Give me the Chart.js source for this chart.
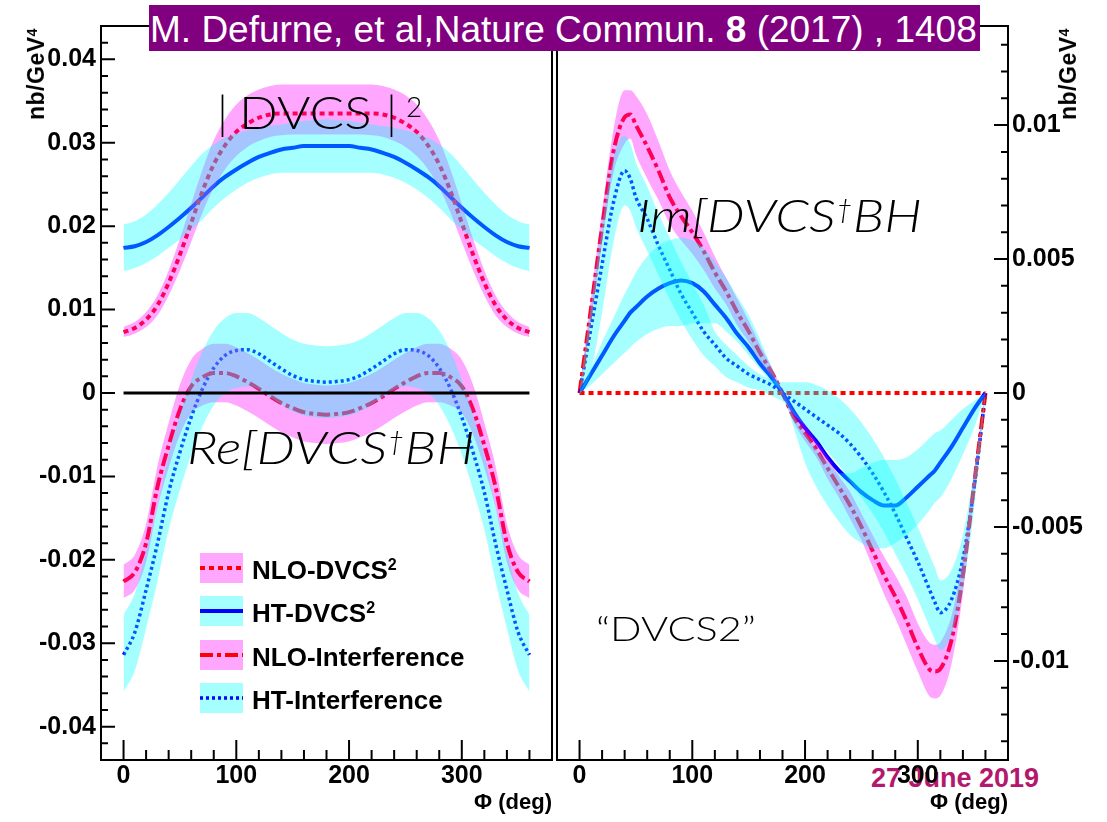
<!DOCTYPE html>
<html><head><meta charset="utf-8">
<script src="https://cdn.jsdelivr.net/npm/chart.js@4.4.1/dist/chart.umd.min.js"></script>
<style>
html,body{margin:0;padding:0;background:#fff;}
#wrap{position:relative;width:1107px;height:822px;overflow:hidden;font-family:"Liberation Sans",Arial,sans-serif;}
canvas{position:absolute;top:0;z-index:1;}
#c1{left:0;} #c2{left:556px;}
#date{position:absolute;left:871px;top:765px;font:bold 27px "Liberation Sans";line-height:27px;color:#b4186c;z-index:0;white-space:nowrap;}
.title{position:absolute;left:149px;top:5px;width:831px;height:46px;background:#800080;color:#fff;font-size:37px;line-height:50px;white-space:nowrap;padding-left:1px;box-sizing:border-box;z-index:3;overflow:hidden;}
.ann{position:absolute;z-index:2;font-family:Lato,"Open Sans",sans-serif;font-weight:300;color:#000;white-space:nowrap;line-height:1;transform-origin:0 0;}
.it{font-style:italic;}
.dag{font-size:0.55em;position:relative;top:-0.55em;}
.yt{position:absolute;width:0;height:0;z-index:2;}
.yt span{position:absolute;right:0;top:0;transform-origin:100% 0;transform:rotate(-90deg);font:bold 23px "Liberation Sans";line-height:23px;white-space:nowrap;letter-spacing:0.5px;}
.yt .s,.leg .s{font-size:0.62em;position:relative;top:-0.5em;}
.leg{position:absolute;left:200px;height:30px;display:flex;align-items:center;z-index:2;}
.leg svg{display:block;}
.leg span.t{margin-left:9px;font:bold 26px "Liberation Sans";position:relative;top:2px;white-space:nowrap;}
</style></head>
<body>
<div id="wrap">
  <div id="date">27 June 2019</div>
  <canvas id="c1" width="556" height="822"></canvas>
  <canvas id="c2" width="551" height="822"></canvas>
  <div class="title">M. Defurne, et al,Nature Commun. <b>8</b> (2017) , 1408</div>
  <div class="ann" style="left:217px;top:89px;font-size:46px;">|</div>
  <div class="ann" style="left:239px;top:89px;font-size:46px;transform:scaleX(1.11);">DVCS</div>
  <div class="ann" style="left:386px;top:89px;font-size:46px;">|</div>
  <div class="ann" style="left:406px;top:92px;font-size:28px;">2</div>
  <div class="ann it" style="left:187px;top:424px;font-size:46px;transform:scaleX(1.18);">Re[DVCS<span class="dag">&#8224;</span>BH</div>
  <div class="ann it" style="left:637px;top:192px;font-size:46px;transform:scaleX(1.165);">Im[DVCS<span class="dag">&#8224;</span>BH</div>
  <div class="ann" style="left:596px;top:611px;font-size:34px;transform:scaleX(1.22);">&#8220;DVCS2&#8221;</div>
  <div class="yt" style="left:25px;top:28px;"><span>nb/GeV<span class="s">4</span></span></div>
  <div class="yt" style="left:1057px;top:28px;"><span>nb/GeV<span class="s">4</span></span></div>
  <div class="leg" style="top:553px;"><svg width="43" height="30"><rect width="43" height="30" fill="#ffa6ff"/><line x1="0" y1="15" x2="43" y2="15" stroke="#ff0000" stroke-width="4" stroke-dasharray="5 4"/></svg><span class="t">NLO-DVCS<span class="s">2</span></span></div>
  <div class="leg" style="top:596px;"><svg width="43" height="30"><rect width="43" height="30" fill="#a6ffff"/><line x1="0" y1="15" x2="43" y2="15" stroke="#0000ff" stroke-width="4"/></svg><span class="t">HT-DVCS<span class="s">2</span></span></div>
  <div class="leg" style="top:640px;"><svg width="43" height="30"><rect width="43" height="30" fill="#ffa6ff"/><line x1="0" y1="15" x2="43" y2="15" stroke="#ff0000" stroke-width="4" stroke-dasharray="13 4 4 4"/></svg><span class="t">NLO-Interference</span></div>
  <div class="leg" style="top:683px;"><svg width="43" height="30"><rect width="43" height="30" fill="#a6ffff"/><line x1="0" y1="15" x2="43" y2="15" stroke="#0000ff" stroke-width="3.5" stroke-dasharray="3 3"/></svg><span class="t">HT-Interference</span></div>
</div>
<script>
// ---------------- DATA ----------------
const X_TICKS = [0, 100, 200, 300];
const X_LABELS = ['0', '100', '200', '300'];
const Y_TICKS_RE = [-0.04, -0.03, -0.02, -0.01, 0, 0.01, 0.02, 0.03, 0.04];
const Y_LABELS_RE = ['-0.04', '-0.03', '-0.02', '-0.01', '0', '0.01', '0.02', '0.03', '0.04'];
const Y_TICKS_IM = [-0.01, -0.005, 0, 0.005, 0.01];
const Y_LABELS_IM = ['-0.01', '-0.005', '0', '0.005', '0.01'];

// Left panel: Re part and |DVCS|^2, phi in degrees
const PHI_RE = [0,10,20,30,40,50,60,70,80,90, 100,110,120,130,140,150,160,170,180, 190,200,210,220,230,240,250,260,270, 280,290,300,310,320,330,340,350,360];

const NLO_DVCS2_RE = [
 0.0073,0.0078,0.0088,0.0105,0.0132,0.0166,0.0204,0.0242,0.0274,0.0297,
 0.0313,0.0323,0.0330,0.0334,0.0335,0.0335,0.0335,0.0335,0.0335,
 0.0335,0.0335,0.0335,0.0335,0.0334,0.0330,0.0323,0.0313,0.0297,
 0.0274,0.0242,0.0204,0.0166,0.0132,0.0105,0.0088,0.0078,0.0073];
const NLO_DVCS2_RE_HI = [
 0.0079,0.0085,0.0097,0.0117,0.0147,0.0185,0.0227,0.0268,0.0303,0.0328,
 0.0346,0.0357,0.0364,0.0368,0.0370,0.0370,0.0370,0.0370,0.0370,
 0.0370,0.0370,0.0370,0.0370,0.0368,0.0364,0.0357,0.0346,0.0328,
 0.0303,0.0268,0.0227,0.0185,0.0147,0.0117,0.0097,0.0085,0.0079];
const NLO_DVCS2_RE_LO = [
 0.0067,0.0071,0.0079,0.0093,0.0117,0.0147,0.0181,0.0216,0.0246,0.0268,
 0.0284,0.0295,0.0302,0.0307,0.0309,0.0310,0.0310,0.0310,0.0310,
 0.0310,0.0310,0.0310,0.0309,0.0307,0.0302,0.0295,0.0284,0.0268,
 0.0246,0.0216,0.0181,0.0147,0.0117,0.0093,0.0079,0.0071,0.0067];

const HT_DVCS2_RE = [
 0.0174,0.0176,0.0181,0.0189,0.0199,0.0210,0.0222,0.0235,0.0248,0.0259,
 0.0268,0.0276,0.0283,0.0288,0.0292,0.0294,0.0296,0.0296,0.0296,
 0.0296,0.0296,0.0294,0.0292,0.0288,0.0283,0.0276,0.0268,0.0259,
 0.0248,0.0235,0.0222,0.0210,0.0199,0.0189,0.0181,0.0176,0.0174];
const HT_DVCS2_RE_HI = [
 0.0202,0.0206,0.0214,0.0226,0.0240,0.0256,0.0272,0.0287,0.0298,0.0306,
 0.0311,0.0315,0.0318,0.0320,0.0322,0.0324,0.0326,0.0327,0.0328,
 0.0327,0.0326,0.0324,0.0322,0.0320,0.0318,0.0315,0.0311,0.0306,
 0.0298,0.0287,0.0272,0.0256,0.0240,0.0226,0.0214,0.0206,0.0202];
const HT_DVCS2_RE_LO = [
 0.0146,0.0150,0.0156,0.0164,0.0174,0.0184,0.0196,0.0208,0.0222,0.0234,
 0.0244,0.0252,0.0258,0.0262,0.0264,0.0264,0.0264,0.0264,0.0264,
 0.0264,0.0264,0.0264,0.0264,0.0262,0.0258,0.0252,0.0244,0.0234,
 0.0222,0.0208,0.0196,0.0184,0.0174,0.0164,0.0156,0.0150,0.0146];

const NLO_INT_RE = [
 -0.0226,-0.0215,-0.0180,-0.0113,-0.0063,-0.0020,0.0008,0.0019,0.0024,0.0024,
 0.0020,0.0013,0.0005,-0.0004,-0.0012,-0.0018,-0.0023,-0.0025,-0.0026,
 -0.0025,-0.0023,-0.0018,-0.0012,-0.0004,0.0005,0.0013,0.0020,0.0024,
 0.0024,0.0019,0.0008,-0.0020,-0.0063,-0.0113,-0.0180,-0.0215,-0.0226];
const NLO_INT_RE_HI = [
 -0.0206,-0.0194,-0.0157,-0.0088,-0.0036,0.0010,0.0040,0.0053,0.0059,0.0059,
 0.0055,0.0048,0.0040,0.0031,0.0023,0.0017,0.0012,0.0010,0.0009,
 0.0010,0.0012,0.0017,0.0023,0.0031,0.0040,0.0048,0.0055,0.0059,
 0.0059,0.0053,0.0040,0.0010,-0.0036,-0.0088,-0.0157,-0.0194,-0.0206];
const NLO_INT_RE_LO = [
 -0.0246,-0.0236,-0.0203,-0.0138,-0.0090,-0.0050,-0.0024,-0.0015,-0.0011,-0.0011,
 -0.0015,-0.0022,-0.0030,-0.0039,-0.0047,-0.0053,-0.0058,-0.0060,-0.0061,
 -0.0060,-0.0058,-0.0053,-0.0047,-0.0039,-0.0030,-0.0022,-0.0015,-0.0011,
 -0.0011,-0.0015,-0.0024,-0.0050,-0.0090,-0.0138,-0.0203,-0.0236,-0.0246];

const HT_INT_RE = [
 -0.0314,-0.0287,-0.0236,-0.0181,-0.0119,-0.0071,-0.0029,0.0005,0.0030,0.0045,
 0.0051,0.0052,0.0047,0.0038,0.0029,0.0021,0.0016,0.0014,0.0013,
 0.0014,0.0016,0.0021,0.0029,0.0038,0.0047,0.0052,0.0051,0.0045,
 0.0030,0.0005,-0.0029,-0.0071,-0.0119,-0.0181,-0.0236,-0.0287,-0.0314];
const HT_INT_RE_HI = [
 -0.0266,-0.0240,-0.0190,-0.0136,-0.0074,-0.0026,0.0016,0.0050,0.0075,0.0090,
 0.0096,0.0096,0.0090,0.0081,0.0072,0.0064,0.0059,0.0057,0.0056,
 0.0057,0.0059,0.0064,0.0072,0.0081,0.0090,0.0096,0.0096,0.0090,
 0.0075,0.0050,0.0016,-0.0026,-0.0074,-0.0136,-0.0190,-0.0240,-0.0266];
const HT_INT_RE_LO = [
 -0.0358,-0.0333,-0.0282,-0.0226,-0.0164,-0.0116,-0.0074,-0.0040,-0.0015,0.0000,
 0.0006,0.0008,0.0004,-0.0005,-0.0014,-0.0022,-0.0027,-0.0029,-0.0030,
 -0.0029,-0.0027,-0.0022,-0.0014,-0.0005,0.0004,0.0008,0.0006,0.0000,
 -0.0015,-0.0040,-0.0074,-0.0116,-0.0164,-0.0226,-0.0282,-0.0333,-0.0358];

const ZERO_PHI = [0, 360];
const ZERO_VAL = [0, 0];

// Right panel: Im part
const PHI_IM = [0,10,20,30,40,45,50,60,70,80, 90,100,110,120,130,140,150,160,170,180, 190,200,210,220,230,240,250,260,270,280, 290,300,310,315,320,330,340,350,360];

const NLO_DVCS2_IM = [
 0,0,0,0,0,0,0,0,0,0, 0,0,0,0,0,0,0,0,0,0, 0,0,0,0,0,0,0,0,0,0, 0,0,0,0,0,0,0,0,0];

const HT_DVCS2_IM = [
 0,0.0007,0.0014,0.0021,0.0027,0.0030,0.0032,0.0036,0.0039,0.0041,
 0.0042,0.0041,0.0038,0.0033,0.0028,0.0022,0.0017,0.0011,0.0006,0,
 -0.0007,-0.0013,-0.0018,-0.0024,-0.0029,-0.0033,-0.0037,-0.0040,-0.0042,-0.0042,
 -0.0039,-0.0035,-0.0031,-0.0029,-0.0026,-0.0020,-0.0013,-0.0006,0];
const HT_DVCS2_IM_HI = [
 0,0.0009,0.0019,0.0028,0.0037,0.0041,0.0045,0.0051,0.0055,0.0057,
 0.0058,0.0057,0.0054,0.0049,0.0043,0.0036,0.0029,0.0020,0.0010,0,
 -0.0009,-0.0015,-0.0021,-0.0026,-0.0030,-0.0030,-0.0028,-0.0026,-0.0025,-0.0025,
 -0.0024,-0.0021,-0.0017,-0.0015,-0.0014,-0.0010,-0.0006,-0.0003,0];
const HT_DVCS2_IM_LO = [
 0,0.0003,0.0007,0.0011,0.0015,0.0017,0.0019,0.0022,0.0024,0.0025,
 0.0025,0.0026,0.0026,0.0026,0.0023,0.0019,0.0014,0.0009,0.0004,0,
 -0.0013,-0.0026,-0.0035,-0.0042,-0.0048,-0.0053,-0.0056,-0.0058,-0.0058,-0.0056,
 -0.0053,-0.0049,-0.0044,-0.0041,-0.0039,-0.0032,-0.0023,-0.0013,0];

const NLO_INT_IM = [
 0,0.0031,0.0062,0.0090,0.0103,0.0104,0.0100,0.0092,0.0083,0.0073,
 0.0066,0.0060,0.0053,0.0045,0.0038,0.0030,0.0023,0.0015,0.0008,0,
 -0.0009,-0.0015,-0.0021,-0.0028,-0.0035,-0.0042,-0.0050,-0.0059,-0.0068,-0.0076,
 -0.0085,-0.0095,-0.0103,-0.0104,-0.0103,-0.0092,-0.0068,-0.0034,0];
const NLO_INT_IM_HI = [
 0.0001,0.0035,0.0068,0.0098,0.0113,0.0113,0.0111,0.0104,0.0094,0.0083,
 0.0075,0.0068,0.0060,0.0051,0.0043,0.0035,0.0027,0.0018,0.0010,0.0001,
 -0.0007,-0.0012,-0.0018,-0.0024,-0.0031,-0.0037,-0.0045,-0.0053,-0.0061,-0.0068,
 -0.0076,-0.0086,-0.0093,-0.0094,-0.0093,-0.0083,-0.0061,-0.0030,0.0001];
const NLO_INT_IM_LO = [
 -0.0001,0.0027,0.0056,0.0082,0.0093,0.0095,0.0089,0.0080,0.0072,0.0063,
 0.0057,0.0052,0.0046,0.0039,0.0033,0.0025,0.0019,0.0012,0.0006,-0.0001,
 -0.0011,-0.0018,-0.0024,-0.0032,-0.0039,-0.0047,-0.0055,-0.0065,-0.0075,-0.0084,
 -0.0094,-0.0104,-0.0113,-0.0114,-0.0113,-0.0101,-0.0075,-0.0038,-0.0001];

const HT_INT_IM = [
 0,0.0024,0.0048,0.0071,0.0083,0.0080,0.0073,0.0065,0.0055,0.0046,
 0.0037,0.0030,0.0023,0.0018,0.0013,0.0010,0.0007,0.0005,0.0003,0,
 -0.0003,-0.0006,-0.0009,-0.0012,-0.0015,-0.0019,-0.0024,-0.0030,-0.0037,-0.0045,
 -0.0054,-0.0063,-0.0073,-0.0078,-0.0082,-0.0077,-0.0062,-0.0035,0];
const HT_INT_IM_HI = [
 0.0001,0.0032,0.0062,0.0088,0.0096,0.0093,0.0086,0.0077,0.0067,0.0058,
 0.0049,0.0041,0.0033,0.0023,0.0018,0.0014,0.0010,0.0007,0.0005,0.0004,
 0.0004,0.0004,0.0003,0.0001,-0.0002,-0.0006,-0.0011,-0.0017,-0.0024,-0.0032,
 -0.0041,-0.0050,-0.0060,-0.0065,-0.0070,-0.0066,-0.0053,-0.0029,0.0001];
const HT_INT_IM_LO = [
 -0.0001,0.0008,0.0030,0.0056,0.0070,0.0068,0.0062,0.0053,0.0044,0.0035,
 0.0027,0.0020,0.0014,0.0010,0.0006,0.0004,0.0002,0.0001,-0.0001,-0.0003,
 -0.0008,-0.0012,-0.0017,-0.0022,-0.0027,-0.0033,-0.0039,-0.0045,-0.0052,-0.0060,
 -0.0068,-0.0077,-0.0087,-0.0092,-0.0096,-0.0090,-0.0073,-0.0043,-0.0001];

// ---------------- STYLE ----------------
const PINK = 'rgba(255,0,255,0.35)';
const CYAN = 'rgba(0,255,255,0.35)';
const RED = '#ff0000';
const BLUE = '#0000ff';
const DOTTED = [5, 4];
const DASHDOT = [13, 4, 4, 4];
const FINEDOT = [3, 3];
const FONT = 'Liberation Sans';

const pts = (xs, ys) => xs.map((x, i) => ({x: x, y: ys[i]}));
function line(xs, ys, color, dash, width, order) {
  return {data: pts(xs, ys), borderColor: color, borderDash: dash, borderWidth: width,
    pointRadius: 0, fill: false, order: order, cubicInterpolationMode: 'monotone', borderCapStyle: 'butt'};
}
function band(xs, hi, lo, color, order) {
  return [
    {data: pts(xs, hi), borderColor: 'transparent', borderWidth: 0, backgroundColor: color,
     fill: '+1', pointRadius: 0, order: order, cubicInterpolationMode: 'monotone'},
    {data: pts(xs, lo), borderColor: 'transparent', borderWidth: 0, backgroundColor: color,
     fill: false, pointRadius: 0, order: order, cubicInterpolationMode: 'monotone'}
  ];
}

const decor = {
  id: 'decor',
  afterDraw(chart, args, o) {
    const ctx = chart.ctx, a = chart.chartArea;
    const xs = chart.scales.x, ys = chart.scales.y;
    ctx.save();
    ctx.strokeStyle = '#000';
    ctx.lineWidth = 2;
    ctx.strokeRect(a.left, a.top, a.right - a.left, a.bottom - a.top);
    ctx.beginPath();
    for (let k = 0; k <= 18; k++) {
      const v = k * 20;
      const px = xs.getPixelForValue(v);
      const len = (v % 100 === 0) ? 20 : 10;
      ctx.moveTo(px, a.bottom); ctx.lineTo(px, a.bottom - len);
    }
    const yx = o.side === 'left' ? a.left : a.right;
    const dir = o.side === 'left' ? 1 : -1;
    for (let k = -o.kMax; k <= o.kMax; k++) {
      const py = ys.getPixelForValue(k * o.step);
      const len = (k % 5 === 0) ? 14 : 7;
      ctx.moveTo(yx, py); ctx.lineTo(yx + dir * len, py);
    }
    ctx.stroke();
    ctx.restore();
  }
};

function xScale() {
  return {
    type: 'linear', min: -20, max: 380,
    afterBuildTicks: s => { s.ticks = X_TICKS.map(v => ({value: v})); },
    afterFit: s => { s.height = 62; },
    grid: {display: false, drawTicks: false}, border: {display: false},
    ticks: {callback: (v, i) => X_LABELS[i], font: {family: FONT, size: 25, weight: 'bold'}, color: '#000', padding: 1, maxRotation: 0, autoSkip: false},
    title: {display: true, text: '\u03A6 (deg)', align: 'end', color: '#000', font: {family: FONT, size: 22, weight: 'bold'}, padding: {top: 0, bottom: 6}}
  };
}
function yScale(pos, min, max, ticks, labels, width) {
  return {
    type: 'linear', position: pos, min: min, max: max,
    afterBuildTicks: s => { s.ticks = ticks.map(v => ({value: v})); },
    afterFit: s => { s.width = width; },
    grid: {display: false, drawTicks: false}, border: {display: false},
    ticks: {callback: (v, i) => labels[i], font: {family: FONT, size: 25, weight: 'bold'}, color: '#000', padding: pos === 'left' ? 5 : 4, autoSkip: false}
  };
}

const baseOpts = {
  responsive: false, animation: false, devicePixelRatio: 1,
  elements: {line: {tension: 0}}
};

// Left chart
new Chart(document.getElementById('c1'), {
  type: 'line',
  data: {datasets: [
    line(ZERO_PHI, ZERO_VAL, '#000', [], 3, 0),
    ...band(PHI_RE, HT_DVCS2_RE_HI, HT_DVCS2_RE_LO, CYAN, 1),
    ...band(PHI_RE, HT_INT_RE_HI, HT_INT_RE_LO, CYAN, 1),
    ...band(PHI_RE, NLO_DVCS2_RE_HI, NLO_DVCS2_RE_LO, PINK, 2),
    ...band(PHI_RE, NLO_INT_RE_HI, NLO_INT_RE_LO, PINK, 2),
    line(PHI_RE, NLO_DVCS2_RE, RED, DOTTED, 4, 3),
    line(PHI_RE, HT_DVCS2_RE, BLUE, [], 4, 3),
    line(PHI_RE, NLO_INT_RE, RED, DASHDOT, 4, 3),
    line(PHI_RE, HT_INT_RE, BLUE, FINEDOT, 3.5, 3)
  ]},
  options: Object.assign({}, baseOpts, {
    layout: {padding: {top: 26, right: 4, left: 0, bottom: 0}},
    scales: {x: xScale(), y: yScale('left', -0.044, 0.044, Y_TICKS_RE, Y_LABELS_RE, 101)},
    plugins: {legend: {display: false}, tooltip: {enabled: false}, decor: {side: 'left', step: 0.002, kMax: 21}}
  }),
  plugins: [decor]
});

// Right chart
new Chart(document.getElementById('c2'), {
  type: 'line',
  data: {datasets: [
    ...band(PHI_IM, HT_DVCS2_IM_HI, HT_DVCS2_IM_LO, CYAN, 1),
    ...band(PHI_IM, HT_INT_IM_HI, HT_INT_IM_LO, CYAN, 1),
    ...band(PHI_IM, NLO_INT_IM_HI, NLO_INT_IM_LO, PINK, 2),
    line(PHI_IM, NLO_DVCS2_IM, RED, DOTTED, 4, 3),
    line(PHI_IM, HT_DVCS2_IM, BLUE, [], 4, 3),
    line(PHI_IM, NLO_INT_IM, RED, DASHDOT, 4, 3),
    line(PHI_IM, HT_INT_IM, BLUE, FINEDOT, 3.5, 3)
  ]},
  options: Object.assign({}, baseOpts, {
    layout: {padding: {top: 26, right: 0, left: 1, bottom: 0}},
    scales: {x: xScale(), y: yScale('right', -0.0137, 0.0137, Y_TICKS_IM, Y_LABELS_IM, 99)},
    plugins: {legend: {display: false}, tooltip: {enabled: false}, decor: {side: 'right', step: 0.001, kMax: 13}}
  }),
  plugins: [decor]
});
</script>
</body></html>
